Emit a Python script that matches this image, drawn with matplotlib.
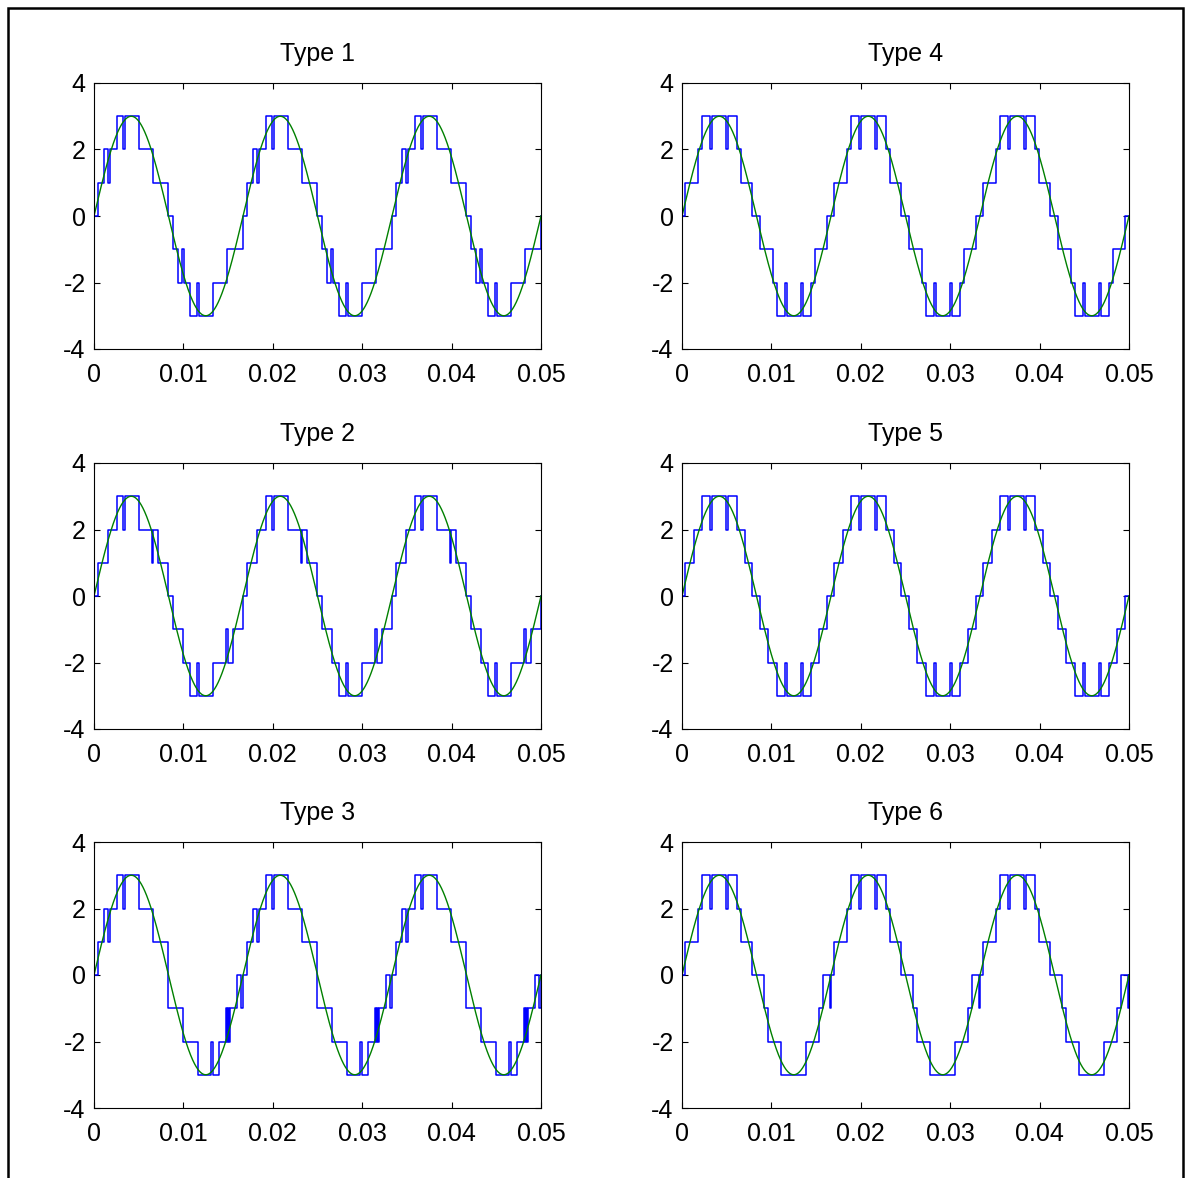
import numpy as np
import matplotlib
matplotlib.use("Agg")
import matplotlib.pyplot as plt
from matplotlib.patches import Rectangle

plt.rcParams['font.family'] = ['Liberation Sans', 'DejaVu Sans']
plt.rcParams['axes.unicode_minus'] = False

# reference sine: amplitude and frequency
AMP = 3.0
FREQ = 60.0
T_END = 0.05

# one period of each staircase output: switching instants (ms) and the level from that instant on
t1_ms = [0, 0.48, 1.12, 1.60, 1.79, 2.54, 3.28, 3.47, 5.03, 6.64, 8.31, 8.87, 9.43, 9.88, 10.10,
         10.74, 11.56, 11.74, 13.27, 14.91, 16.63]
lv1 = [0, 1, 2, 1, 2, 3, 2, 3, 2, 1, 0, -1, -2, -1, -2, -3, -2, -3, -2, -1, 0]

t2_ms = [0, 0.48, 1.60, 2.54, 3.28, 3.47, 5.03, 6.45, 6.64, 7.20, 8.31, 8.87, 9.92, 10.74, 11.56,
         11.74, 13.27, 14.77, 14.95, 15.51, 16.63]
lv2 = [0, 1, 2, 3, 2, 3, 2, 1, 2, 1, 0, -1, -2, -3, -2, -3, -2, -1, -2, -1, 0]

t3_ms = [0, 0.48, 1.12, 1.60, 1.79, 2.54, 3.28, 3.47, 5.03, 6.64, 8.24, 8.30, 10.0, 11.67, 13.08,
         13.26, 14.02, 14.75, 14.88, 15.0, 15.12, 15.24, 16.04, 16.48, 16.62]
lv3 = [0, 1, 2, 1, 2, 3, 2, 3, 2, 1, 0, -1, -2, -3, -2, -3, -2, -1, -2, -1, -2, -1, 0, -1, 0]

t4_ms = [0, 0.37, 1.79, 2.24, 3.13, 3.39, 4.96, 5.15, 6.15, 6.56, 7.83, 8.76, 10.14, 10.63, 11.48,
         11.74, 13.35, 13.53, 14.39, 14.84, 16.22]
lv4 = [0, 1, 2, 3, 2, 3, 2, 3, 2, 1, 0, -1, -2, -3, -2, -3, -2, -3, -2, -1, 0]

t5_ms = [0, 0.37, 1.30, 2.24, 3.13, 3.39, 4.96, 5.15, 6.15, 7.08, 7.83, 8.76, 9.62, 10.63, 11.48,
         11.74, 13.35, 13.53, 14.39, 15.29, 16.22]
lv5 = [0, 1, 2, 3, 2, 3, 2, 3, 2, 1, 0, -1, -2, -3, -2, -3, -2, -3, -2, -1, 0]

t6_ms = [0, 0.37, 1.79, 2.24, 3.13, 3.39, 4.96, 5.15, 6.15, 6.56, 7.83, 9.17, 9.62, 11.11, 13.91,
         15.29, 15.77, 16.50, 16.64]
lv6 = [0, 1, 2, 3, 2, 3, 2, 3, 2, 1, 0, -1, -2, -3, -2, -1, 0, -1, 0]

titles = ['Type 1', 'Type 2', 'Type 3', 'Type 4', 'Type 5', 'Type 6']
xticks = [0, 0.01, 0.02, 0.03, 0.04, 0.05]
xticklabels = ['0', '0.01', '0.02', '0.03', '0.04', '0.05']
yticks = [-4, -2, 0, 2, 4]

waves = [(t1_ms, lv1), (t2_ms, lv2), (t3_ms, lv3), (t4_ms, lv4), (t5_ms, lv5), (t6_ms, lv6)]

W, H = 1185, 1178
fig = plt.figure(figsize=(W / 100, H / 100), dpi=100)

# axes boxes in pixels: (left, top) ; column-major like the original subplot order
lefts = [94, 682]
tops = [83, 463, 842]
aw, ah = 447, 266

period = 1.0 / FREQ
ts = np.linspace(0, T_END, 3000)
ref = AMP * np.sin(2 * np.pi * FREQ * ts)

for i, (tms, lv) in enumerate(waves):
    col, row = divmod(i, 3)
    l, tp = lefts[col], tops[row]
    ax = fig.add_axes([l / W, 1 - (tp + ah) / H, aw / W, ah / H])

    # repeat the period over the window
    tt, yy = [], []
    k = 0
    while k * period < T_END:
        for t, v in zip(tms, lv):
            tk = t / 1000.0 + k * period
            if tk < T_END:
                tt.append(tk)
                yy.append(v)
        k += 1
    tt.append(T_END)
    yy.append(yy[-1])

    ax.step(tt, yy, where='post', color='#0000ff', lw=1.1)
    ax.plot(ts, ref, color='#008000', lw=1.0)

    ax.set_xlim(0, T_END)
    ax.set_ylim(-4, 4)
    ax.set_xticks(xticks)
    ax.set_xticklabels(xticklabels)
    ax.set_yticks(yticks)
    ax.tick_params(direction='in', top=True, right=True, length=4, width=0.8,
                   labelsize=18)
    ax.tick_params(axis='x', pad=10)
    ax.tick_params(axis='y', pad=6)
    for s in ax.spines.values():
        s.set_linewidth(0.8)
    ax.set_title(titles[i], fontsize=18, pad=16)

# black frame round the figure
fig.patches.append(Rectangle((8 / W, -0.02), (1183 - 8) / W, 1.02 - 8 / H,
                             transform=fig.transFigure, fill=False,
                             edgecolor='black', lw=1.8))

fig.savefig('out.png', dpi=100)
